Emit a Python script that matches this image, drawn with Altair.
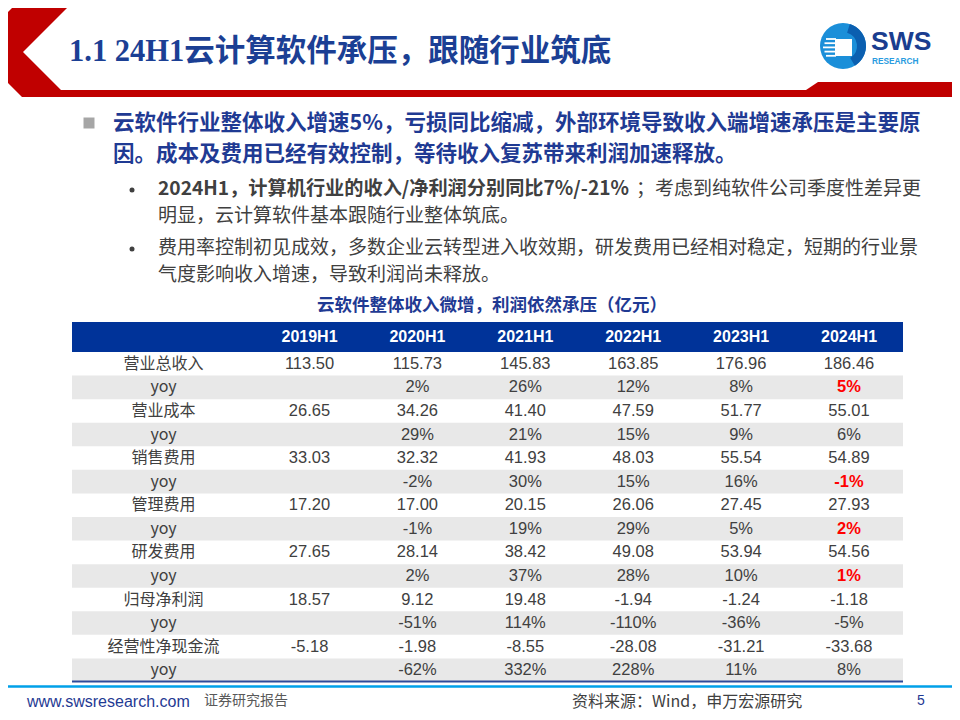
import altair as alt
import pandas as pd

# ---------------- data ----------------
years = ["2019H1", "2020H1", "2021H1", "2022H1", "2023H1", "2024H1"]
metrics = ["营业总收入", "营业成本", "销售费用", "管理费用", "研发费用", "归母净利润", "经营性净现金流"]

revenue = [113.50, 115.73, 145.83, 163.85, 176.96, 186.46]
revenue_yoy = [None, 2, 26, 12, 8, 5]
cost = [26.65, 34.26, 41.40, 47.59, 51.77, 55.01]
cost_yoy = [None, 29, 21, 15, 9, 6]
selling = [33.03, 32.32, 41.93, 48.03, 55.54, 54.89]
selling_yoy = [None, -2, 30, 15, 16, -1]
admin = [17.20, 17.00, 20.15, 26.06, 27.45, 27.93]
admin_yoy = [None, -1, 19, 29, 5, 2]
rnd = [27.65, 28.14, 38.42, 49.08, 53.94, 54.56]
rnd_yoy = [None, 2, 37, 28, 10, 1]
net_profit = [18.57, 9.12, 19.48, -1.94, -1.24, -1.18]
net_profit_yoy = [None, -51, 114, -110, -36, -5]
op_cashflow = [-5.18, -1.98, -8.55, -28.08, -31.21, -33.68]
op_cashflow_yoy = [None, -62, 332, 228, 11, 8]

series = [revenue, cost, selling, admin, rnd, net_profit, op_cashflow]
series_yoy = [revenue_yoy, cost_yoy, selling_yoy, admin_yoy, rnd_yoy, net_profit_yoy, op_cashflow_yoy]
# yoy cells shown in bold red: (metric, year)
highlights = [("营业总收入", "2024H1"), ("销售费用", "2024H1"), ("管理费用", "2024H1"), ("研发费用", "2024H1")]

title_text = "1.1 24H1云计算软件承压，跟随行业筑底"
main_lines = ["云软件行业整体收入增速5%，亏损同比缩减，外部环境导致收入端增速承压是主要原",
              "因。成本及费用已经有效控制，等待收入复苏带来利润加速释放。"]
sub1_bold = "2024H1，计算机行业的收入/净利润分别同比7%/-21%"
sub1_rest = "；考虑到纯软件公司季度性差异更"
sub_lines = ["明显，云计算软件基本跟随行业整体筑底。",
             "费用率控制初见成效，多数企业云转型进入收效期，研发费用已经相对稳定，短期的行业景",
             "气度影响收入增速，导致利润尚未释放。"]
caption = "云软件整体收入微增，利润依然承压（亿元）"
footer_url = "www.swsresearch.com"
footer_tag = "证券研究报告"
footer_src = "资料来源：Wind，申万宏源研究"
page_no = "5"

# ---------------- build table ----------------
rows, cells = [], []
for i, (m, vals, yoys) in enumerate(zip(metrics, series, series_yoy)):
    rv, ry = f"r{2*i:02d}", f"r{2*i+1:02d}"
    rows.append({"row": rv, "label": m, "kind": "value"})
    rows.append({"row": ry, "label": "yoy", "kind": "yoy"})
    for y, v, p in zip(years, vals, yoys):
        cells.append({"row": rv, "year": y, "text": f"{v:.2f}", "hl": False})
        if p is not None:
            cells.append({"row": ry, "year": y, "text": f"{p}%", "hl": (m, y) in highlights})
rows_df = pd.DataFrame(rows)
cells_df = pd.DataFrame(cells)
row_ids = list(rows_df["row"])

O = 8  # page margin offset
def px(v):
    return v - O

CJK = "Noto Sans CJK SC"
NUM = "Liberation Sans, Noto Sans CJK SC"
BLUE = "#1f3a93"
GRAY = "#404040"

yscale = alt.Scale(domain=row_ids, range=[px(352), px(682)], paddingInner=0, paddingOuter=0)
xscale = alt.Scale(domain=years, range=[px(309.5), px(849)], padding=0)

one = pd.DataFrame({"k": [0]})

def txt(s, x, y, size, color, weight="normal", font=CJK, align="left"):
    return alt.Chart(pd.DataFrame({"t": [s]})).mark_text(
        font=font, fontSize=size, color=color, fontWeight=weight, align=align, baseline="middle"
    ).encode(text="t:N", x=alt.value(px(x)), y=alt.value(px(y)))

def hline(x1, x2, y, color, w):
    return alt.Chart(one).mark_rule(color=color, strokeWidth=w).encode(
        x=alt.value(px(x1)), x2=alt.value(px(x2)), y=alt.value(px(y)))

# red chevron + bar (decoration)
pts = [(20, 0), (75, 0), (23, 52), (61, 90), (806, 90), (818, 82), (970, 82), (970, 97),
       (22, 97), (0, 75), (0, 20)]
R = 480.0
path = "M" + " L".join(f"{(a - R) / R:.5f},{(b - R) / R:.5f}" for a, b in pts) + " Z"
chevron = alt.Chart(one).mark_point(shape=path, filled=True, color="#c00000", opacity=1,
                                    strokeWidth=0, size=(2 * R) ** 2).encode(
    x=alt.value(px(R)), y=alt.value(px(R)))

title = txt(title_text, 69, 52, 30.5, "#1b3f94", "bold", font="Liberation Serif, Noto Sans CJK SC")

# logo
logo_circle = alt.Chart(one).mark_point(shape="circle", filled=True, color="#1b8fd9", opacity=1,
                                        strokeWidth=0, size=46 ** 2).encode(
    x=alt.value(px(843)), y=alt.value(px(46)))
logo_dark = alt.Chart(one).mark_arc(color="#0b5fb0", innerRadius=14, outerRadius=23,
                                    theta=0.3, theta2=2.6).encode(
    x=alt.value(px(843)), y=alt.value(px(46)))
stripes = alt.layer(*[hline(823 + abs(k - 2) * 1.5, 836, 39 + 4.2 * k, "white", 1.8) for k in range(5)])
logo_sq = alt.Chart(one).mark_point(shape="square", filled=True, color="white", opacity=1,
                                    strokeWidth=0, size=17 ** 2).encode(
    x=alt.value(px(843.5)), y=alt.value(px(47.5)))
sws = txt("SWS", 871, 42, 26.5, "#1a3d8f", "bold", font="Liberation Sans")
research = txt("RESEARCH", 872, 61.5, 8.3, "#2a9be0", "bold", font="Liberation Sans")

# bullets
sq = alt.Chart(one).mark_point(shape="square", filled=True, color="#a6a6a6", opacity=1,
                               strokeWidth=0, size=11 ** 2).encode(
    x=alt.value(px(89)), y=alt.value(px(123)))
m1 = txt(main_lines[0], 113, 124, 21.5, BLUE, "bold")
m2 = txt(main_lines[1], 113, 155, 21.5, BLUE, "bold")
dot1 = alt.Chart(one).mark_point(shape="circle", filled=True, color=GRAY, opacity=1,
                                 strokeWidth=0, size=5 ** 2).encode(
    x=alt.value(px(132)), y=alt.value(px(190)))
dot2 = alt.Chart(one).mark_point(shape="circle", filled=True, color=GRAY, opacity=1,
                                 strokeWidth=0, size=5 ** 2).encode(
    x=alt.value(px(132)), y=alt.value(px(249)))
s1a = txt(sub1_bold, 158, 189, 19.2, GRAY, "bold")
s1b = txt(sub1_rest, 636, 189, 19, GRAY)
s2 = txt(sub_lines[0], 158, 216, 19, GRAY)
s3 = txt(sub_lines[1], 158, 248, 19, GRAY)
s4 = txt(sub_lines[2], 158, 275, 19, GRAY)
cap = txt(caption, 492, 306, 17.5, BLUE, "bold", align="center")

# table
header_bar = alt.Chart(one).mark_rect(color="#003399").encode(
    x=alt.value(px(72)), x2=alt.value(px(903)), y=alt.value(px(322)), y2=alt.value(px(352)))
gray_rows = alt.Chart(rows_df).transform_filter("datum.kind == 'yoy'").mark_rect(color="#e8e8e8").encode(
    y=alt.Y("row:N", scale=yscale, axis=None),
    x=alt.value(px(72)), x2=alt.value(px(903)))
header_text = alt.Chart(pd.DataFrame({"year": years})).mark_text(
    font=NUM, fontSize=16, fontWeight="bold", color="white", baseline="middle").encode(
    x=alt.X("year:N", scale=xscale, axis=None), y=alt.value(px(337)), text="year:N")
labels = alt.Chart(rows_df).mark_text(font=CJK, fontSize=16, color=GRAY, baseline="middle").encode(
    y=alt.Y("row:N", scale=yscale, axis=None), x=alt.value(px(163.5)), text="label:N")
vals_normal = alt.Chart(cells_df).transform_filter("!datum.hl").mark_text(
    font=NUM, fontSize=16.5, color=GRAY, baseline="middle").encode(
    x=alt.X("year:N", scale=xscale, axis=None), y=alt.Y("row:N", scale=yscale, axis=None), text="text:N")
vals_hl = alt.Chart(cells_df).transform_filter("datum.hl").mark_text(
    font=NUM, fontSize=16.5, color="#ff0000", fontWeight="bold", baseline="middle").encode(
    x=alt.X("year:N", scale=xscale, axis=None), y=alt.Y("row:N", scale=yscale, axis=None), text="text:N")
table_bottom = hline(72, 903, 681.5, "#2e4a9a", 2)

# footer
cyan = hline(0, 960, 686.5, "#00a0e9", 2.5)
f1 = txt(footer_url, 27, 702, 16, BLUE, font="Liberation Sans")
f2 = txt(footer_tag, 204, 701, 14, "#595959")
f3 = txt(footer_src, 572, 702, 16, GRAY)
f4 = txt(page_no, 917, 701, 14, BLUE, font="Liberation Sans")

chart = alt.layer(
    chevron, title, logo_circle, logo_dark, stripes, logo_sq, sws, research,
    sq, m1, m2, dot1, dot2, s1a, s1b, s2, s3, s4, cap,
    header_bar, gray_rows, header_text, labels, vals_normal, vals_hl, table_bottom,
    cyan, f1, f2, f3, f4,
).properties(
    width=944, height=704, background="white", padding=0,
    autosize=alt.AutoSizeParams(type="none"),
).configure_view(stroke=None)

chart.save("out.html", embed_options={"renderer": "svg", "actions": False})
